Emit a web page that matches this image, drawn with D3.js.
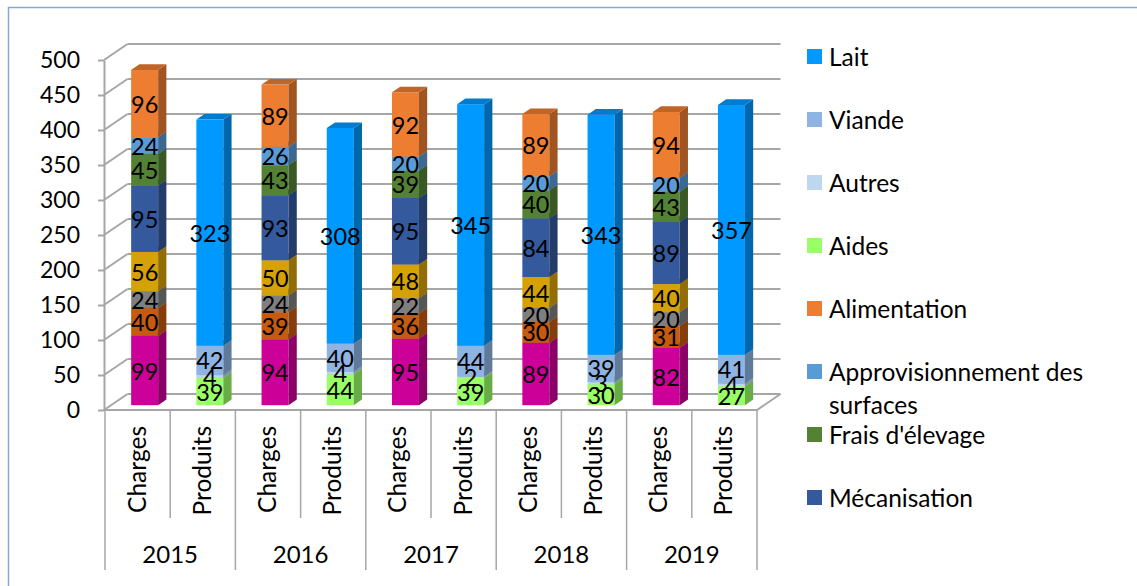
<!DOCTYPE html>
<html>
<head>
<meta charset="utf-8">
<script src="https://cdn.jsdelivr.net/npm/d3@7"></script>
<style>
  html, body { margin: 0; padding: 0; background: #fff; }
  svg { display: block; }
  text { font-family: Lato, "Open Sans", sans-serif; fill: #000; }
</style>
</head>
<body>
<svg id="chart" width="1137" height="586"></svg>
<script>
// ---------- data ----------
const years = ["2015", "2016", "2017", "2018", "2019"];
const barTypes = ["Charges", "Produits"];
const yTicks = [0, 50, 100, 150, 200, 250, 300, 350, 400, 450, 500];

// Charges series (bottom -> top)
const seriesMagenta = [99, 94, 95, 89, 82];
const seriesBrown = [40, 39, 36, 30, 31];
const seriesGray = [24, 24, 22, 20, 20];
const seriesGold = [56, 50, 48, 44, 40];
const mecanisation = [95, 93, 95, 84, 89];
const fraisElevage = [45, 43, 39, 40, 43];
const approvisionnement = [24, 26, 20, 20, 20];
const alimentation = [96, 89, 92, 89, 94];
// Produits series (bottom -> top)
const aides = [39, 44, 39, 30, 27];
const autres = [4, 4, 2, 3, 4];
const viande = [42, 40, 44, 39, 41];
const lait = [323, 308, 345, 343, 357];

const seriesNames = ["Série A", "Série B", "Série C", "Série D", "Mécanisation", "Frais d'élevage",
  "Approvisionnement des surfaces", "Alimentation", "Aides", "Autres", "Viande", "Lait"];
const seriesColors = ["#CC0099", "#C55A11", "#7F7F7F", "#D6A106", "#34599D", "#548235",
  "#5B9BD5", "#ED7D31", "#99FF66", "#BDD7EE", "#8EB4E3", "#0099FF"];
const chargeSeries = [seriesMagenta, seriesBrown, seriesGray, seriesGold, mecanisation, fraisElevage, approvisionnement, alimentation];
const produitSeries = [aides, autres, viande, lait];
const legendOrder = ["Lait", "Viande", "Autres", "Aides", "Alimentation", "Approvisionnement des surfaces", "Frais d'élevage", "Mécanisation"];

// ---------- build table ----------
const rows = [];
years.forEach((yr, i) => {
  barTypes.forEach(t => {
    const r = { key: yr + "|" + t, year: yr, type: t };
    seriesNames.forEach((n, s) => {
      if (s < 8) r[n] = t === "Charges" ? chargeSeries[s][i] : 0;
      else r[n] = t === "Produits" ? produitSeries[s - 8][i] : 0;
    });
    rows.push(r);
  });
});
const stacked = d3.stack().keys(seriesNames)(rows);

// ---------- layout ----------
const svg = d3.select("#chart");
const DX = 23.5, DY = -16;          // depth offset of back wall
const FRONT = 0.3, BACK = 0.65;     // bar depth range
const x = d3.scaleBand().domain(rows.map(r => r.key)).range([105, 757]).padding(0);
const y = d3.scaleLinear().domain([0, 500]).range([410, 60]);
const barW = x.bandwidth() * 0.414;
const grid = "#A6A6A6";

// outer frame
svg.append("path").attr("d", "M8.5,586 V7.5 H1137").attr("fill", "none").attr("stroke", "#7FA9DD").attr("stroke-width", 1.5);

// back wall gridlines
const [x0, x1] = x.range();
svg.append("g").selectAll("line").data(yTicks).join("line")
  .attr("x1", x0 - 1 + DX).attr("x2", x1 + DX)
  .attr("y1", d => y(d) + DY).attr("y2", d => y(d) + DY)
  .attr("stroke", grid).attr("stroke-width", 2);
// side wall diagonals
svg.append("g").selectAll("line").data(yTicks).join("line")
  .attr("x1", x0 - 1).attr("x2", x0 - 1 + DX)
  .attr("y1", d => y(d)).attr("y2", d => y(d) + DY)
  .attr("stroke", grid).attr("stroke-width", 2);
// floor
svg.append("path")
  .attr("d", `M${x0 - 1},${y(0)} H${x1} L${x1 + DX},${y(0) + DY}`)
  .attr("fill", "none").attr("stroke", grid).attr("stroke-width", 2);

// y axis
const yAxis = svg.append("g").attr("transform", `translate(${x0 - 1},0)`)
  .call(d3.axisLeft(y).tickValues(yTicks).tickSize(6).tickSizeOuter(0).tickPadding(18));
yAxis.select(".domain").attr("stroke", grid).attr("stroke-width", 2);
yAxis.selectAll(".tick line").attr("stroke", grid).attr("stroke-width", 2);
yAxis.selectAll(".tick text").attr("font-size", 23).attr("font-family", "Lato").attr("fill", "#000");

// category dividers
const cats = rows.map(r => r.key);
svg.append("g").selectAll("line").data(cats.concat(["end"])).join("line")
  .attr("x1", (d, i) => i < cats.length ? x(d) : x1)
  .attr("x2", (d, i) => i < cats.length ? x(d) : x1)
  .attr("y1", y(0))
  .attr("y2", (d, i) => (i % 2 === 0) ? 570 : 518)
  .attr("stroke", grid).attr("stroke-width", 1.5);

// category labels
svg.append("g").selectAll("text").data(rows).join("text")
  .attr("transform", d => `translate(${x(d.key) + x.bandwidth() / 2 + 8},426) rotate(-90)`)
  .attr("text-anchor", "end")
  .attr("font-size", 24.5)
  .text(d => d.type);
// year labels
svg.append("g").selectAll("text").data(years).join("text")
  .attr("x", d => x(d + "|Charges") + x.bandwidth())
  .attr("y", 563)
  .attr("text-anchor", "middle")
  .attr("font-size", 24)
  .text(d => d);

// ---------- bars ----------
function shade(c, k) { return d3.color(c).darker(k).formatHex(); }
const bars = svg.append("g");
rows.forEach((r, ci) => {
  const bx = x(r.key) + (x.bandwidth() - barW) / 2 + FRONT * DX;
  const ddx = (BACK - FRONT) * DX, ddy = (BACK - FRONT) * DY;
  stacked.forEach((layer, s) => {
    const [v0, v1] = layer[ci];
    if (v1 - v0 <= 0) return;
    const yb = y(v0) + FRONT * DY, yt = y(v1) + FRONT * DY;
    const col = seriesColors[s];
    const g = bars.append("g");
    g.append("rect").attr("x", bx).attr("y", yt).attr("width", barW).attr("height", yb - yt).attr("fill", col);
    g.append("path").attr("d", `M${bx + barW},${yb} L${bx + barW + ddx},${yb + ddy} L${bx + barW + ddx},${yt + ddy} L${bx + barW},${yt} Z`)
      .attr("fill", shade(col, 1.1));
    g.append("path").attr("d", `M${bx},${yt} L${bx + ddx},${yt + ddy} L${bx + barW + ddx},${yt + ddy} L${bx + barW},${yt} Z`)
      .attr("fill", shade(col, 0.6));
  });
});
// labels
const labels = svg.append("g");
rows.forEach((r, ci) => {
  const bx = x(r.key) + (x.bandwidth() - barW) / 2 + FRONT * DX;
  stacked.forEach((layer, s) => {
    const [v0, v1] = layer[ci];
    if (v1 - v0 <= 0) return;
    const ym = (y(v0) + y(v1)) / 2 + FRONT * DY;
    labels.append("text").attr("x", bx + barW / 2).attr("y", ym)
      .attr("text-anchor", "middle").attr("dominant-baseline", "central")
      .attr("font-size", 23.5).text(v1 - v0);
  });
});

// ---------- legend ----------
const leg = svg.append("g");
legendOrder.forEach((name, i) => {
  const s = seriesNames.indexOf(name);
  const yy = 56 + i * 63;
  leg.append("rect").attr("x", 807).attr("y", yy - 7).attr("width", 15).attr("height", 15).attr("fill", seriesColors[s]);
  if (name === "Approvisionnement des surfaces") {
    const t = leg.append("text").attr("x", 829).attr("y", yy).attr("dominant-baseline", "central").attr("font-size", 24.5);
    t.append("tspan").attr("x", 829).text("Approvisionnement des");
    t.append("tspan").attr("x", 829).attr("dy", 33).text("surfaces");
  } else {
    leg.append("text").attr("x", 829).attr("y", yy).attr("dominant-baseline", "central").attr("font-size", 24.5).text(name);
  }
});
</script>
</body>
</html>
